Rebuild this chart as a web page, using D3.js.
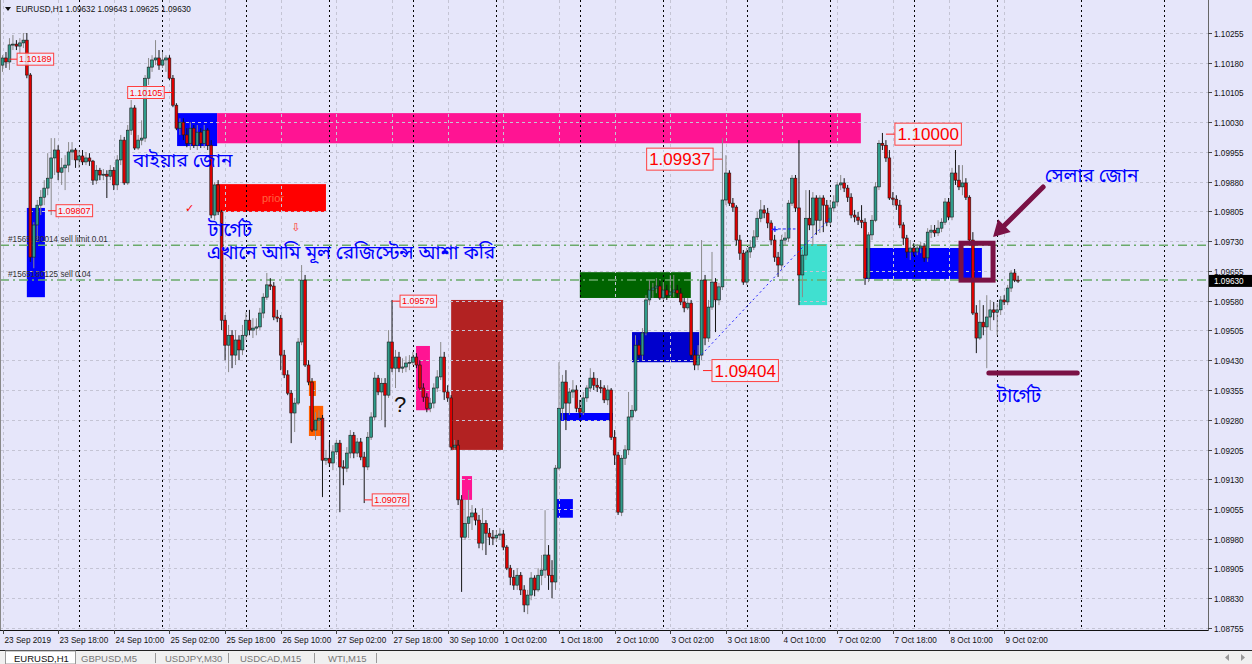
<!DOCTYPE html>
<html><head><meta charset="utf-8">
<script src="https://cdn.jsdelivr.net/npm/d3@7"></script>
<style>
html,body{margin:0;padding:0;background:#e6e6fa;overflow:hidden}
svg{display:block}
</style></head><body>
<svg id="chart" width="1252" height="664"></svg>
<script>
// ---------------- DATA ----------------
const symbol = "EURUSD,H1";
const headerQuote = ["1.09632", "1.09643", "1.09625", "1.09630"];
const currentPrice = 1.09630;

const opens = [
1.10174,1.10192,1.10182,1.10225,1.10227,1.10222,1.10230,1.10237,1.10149,1.09690,
1.09771,1.09821,1.09841,1.09864,1.09889,1.09940,1.09960,1.09904,1.09915,1.09922,
1.09955,1.09960,1.09935,1.09945,1.09930,1.09940,1.09932,1.09884,1.09909,1.09897,
1.09899,1.09894,1.09909,1.09872,1.09935,1.09985,1.09877,1.10010,1.10066,1.09965,
1.09985,1.09990,1.10141,1.10169,1.10187,1.10192,1.10174,1.10187,1.10192,1.10141,
1.10073,1.10015,1.10030,1.09998,1.09977,1.10015,1.09972,1.10005,1.09977,1.10010,
1.09972,1.09796,1.09872,1.09804,1.09531,1.09468,1.09493,1.09443,1.09481,1.09456,
1.09493,1.09531,1.09506,1.09511,1.09514,1.09549,1.09589,1.09620,1.09617,1.09539,
1.09536,1.09443,1.09393,1.09347,1.09297,1.09322,1.09476,1.09632,1.09418,1.09375,
1.09254,1.09279,1.09284,1.09178,1.09183,1.09171,1.09199,1.09221,1.09161,1.09158,
1.09196,1.09241,1.09196,1.09224,1.09186,1.09161,1.09236,1.09287,1.09385,1.09350,
1.09372,1.09342,1.09476,1.09410,1.09438,1.09410,1.09413,1.09423,1.09425,1.09438,
1.09418,1.09360,1.09337,1.09309,1.09322,1.09360,1.09388,1.09438,1.09350,1.09335,
1.09211,1.09216,1.09078,1.08984,1.09019,1.09035,1.09045,1.09027,1.08969,1.09019,
1.08994,1.08984,1.08982,1.08989,1.08992,1.08959,1.08906,1.08883,1.08863,1.08888,
1.08851,1.08813,1.08838,1.08881,1.08851,1.08888,1.08901,1.08939,1.08888,1.08871,
1.09158,1.09309,1.09375,1.09322,1.09350,1.09355,1.09309,1.09299,1.09335,1.09360,
1.09385,1.09367,1.09362,1.09360,1.09330,1.09355,1.09236,1.09191,1.09047,1.09183,
1.09204,1.09287,1.09304,1.09468,1.09443,1.09499,1.09582,1.09607,1.09612,1.09617,
1.09587,1.09607,1.09594,1.09602,1.09607,1.09599,1.09577,1.09562,1.09574,1.09443,
1.09418,1.09443,1.09632,1.09486,1.09564,1.09627,1.09582,1.09615,1.09834,1.09902,
1.09826,1.09816,1.09733,1.09700,1.09627,1.09703,1.09715,1.09741,1.09788,1.09809,
1.09801,1.09776,1.09733,1.09690,1.09670,1.09733,1.09738,1.09826,1.09889,1.09814,
1.09645,1.09695,1.09788,1.09771,1.09839,1.09783,1.09839,1.09821,1.09778,1.09814,
1.09829,1.09872,1.09877,1.09864,1.09841,1.09796,1.09791,1.09783,1.09778,1.09637,
1.09746,1.09783,1.09867,1.09977,1.09972,1.09940,1.09839,1.09836,1.09821,1.09771,
1.09738,1.09703,1.09713,1.09703,1.09713,1.09718,1.09688,1.09753,1.09758,1.09751,
1.09763,1.09778,1.09829,1.09791,1.09902,1.09884,1.09867,1.09877,1.09841,1.09733,
1.09549,1.09486,1.09526,1.09514,1.09539,1.09557,1.09551,1.09557,1.09582,1.09577,
1.09612,1.09650,1.09632];

const highs = [
1.10199,1.10207,1.10242,1.10250,1.10237,1.10242,1.10255,1.10255,1.10154,1.09778,
1.09834,1.09859,1.09884,1.09952,1.09990,1.09990,1.09972,1.09940,1.09947,1.09980,
1.09980,1.09965,1.09960,1.09960,1.09955,1.09952,1.09935,1.09922,1.09915,1.09912,
1.09909,1.09922,1.09917,1.09947,1.09998,1.09993,1.10023,1.10086,1.10073,1.09998,
1.10035,1.10149,1.10192,1.10199,1.10237,1.10212,1.10207,1.10199,1.10199,1.10149,
1.10078,1.10040,1.10040,1.10015,1.10030,1.10023,1.10023,1.10015,1.10023,1.10015,
1.09985,1.09879,1.09884,1.09809,1.09544,1.09519,1.09506,1.09506,1.09493,1.09519,
1.09551,1.09557,1.09536,1.09536,1.09562,1.09599,1.09650,1.09637,1.09627,1.09557,
1.09544,1.09456,1.09405,1.09355,1.09335,1.09486,1.09670,1.09645,1.09430,1.09385,
1.09299,1.09304,1.09292,1.09204,1.09224,1.09216,1.09229,1.09229,1.09178,1.09211,
1.09254,1.09249,1.09234,1.09234,1.09199,1.09249,1.09299,1.09400,1.09393,1.09385,
1.09385,1.09506,1.09582,1.09456,1.09451,1.09435,1.09440,1.09443,1.09451,1.09448,
1.09430,1.09372,1.09347,1.09335,1.09372,1.09405,1.09476,1.09451,1.09367,1.09342,
1.09229,1.09229,1.09090,1.09078,1.09103,1.09065,1.09057,1.09040,1.09057,1.09027,
1.09007,1.09002,1.09002,1.09007,1.09002,1.08964,1.08914,1.08901,1.08906,1.08896,
1.08863,1.08851,1.08896,1.08888,1.08906,1.08939,1.09052,1.08964,1.08926,1.09166,
1.09425,1.09393,1.09405,1.09360,1.09380,1.09367,1.09330,1.09350,1.09367,1.09410,
1.09400,1.09385,1.09380,1.09367,1.09367,1.09360,1.09254,1.09199,1.09191,1.09216,
1.09350,1.09317,1.09493,1.09481,1.09511,1.09594,1.09632,1.09625,1.09637,1.09632,
1.09627,1.09620,1.09645,1.09645,1.09620,1.09612,1.09587,1.09587,1.09582,1.09456,
1.09468,1.09733,1.09645,1.09582,1.09703,1.09637,1.09625,1.09990,1.09947,1.09909,
1.09839,1.09821,1.09746,1.09708,1.09713,1.09733,1.09758,1.09804,1.09834,1.09821,
1.09814,1.09783,1.09746,1.09703,1.09746,1.09753,1.09834,1.09897,1.09897,1.09985,
1.09708,1.09859,1.09859,1.09854,1.09846,1.09846,1.09846,1.09834,1.09834,1.09846,
1.09879,1.09897,1.09889,1.09872,1.09851,1.09809,1.09804,1.09821,1.09788,1.09753,
1.09796,1.09879,1.09985,1.10003,1.09985,1.09960,1.09854,1.09846,1.09834,1.09778,
1.09746,1.09733,1.09725,1.09723,1.09728,1.09725,1.09763,1.09771,1.09771,1.09783,
1.09788,1.09839,1.09839,1.09915,1.09960,1.09922,1.09922,1.09889,1.09846,1.09753,
1.09569,1.09582,1.09569,1.09594,1.09582,1.09577,1.09574,1.09592,1.09594,1.09620,
1.09657,1.09660,1.09643];

const lows = [
1.10157,1.10167,1.10162,1.10212,1.10212,1.10199,1.10217,1.10141,1.09678,1.09662,
1.09733,1.09796,1.09821,1.09846,1.09796,1.09897,1.09884,1.09872,1.09859,1.09904,
1.09935,1.09915,1.09915,1.09922,1.09922,1.09920,1.09872,1.09874,1.09884,1.09884,
1.09839,1.09884,1.09859,1.09859,1.09922,1.09872,1.09872,1.09998,1.09960,1.09960,
1.09972,1.09980,1.10124,1.10157,1.10174,1.10162,1.10167,1.10157,1.10136,1.10068,
1.10010,1.09998,1.09985,1.09967,1.09960,1.09965,1.09960,1.09965,1.09965,1.09960,
1.09788,1.09783,1.09796,1.09506,1.09430,1.09400,1.09410,1.09418,1.09430,1.09443,
1.09481,1.09493,1.09486,1.09493,1.09506,1.09536,1.09582,1.09607,1.09531,1.09526,
1.09405,1.09385,1.09342,1.09221,1.09249,1.09317,1.09468,1.09413,1.09367,1.09249,
1.09229,1.09254,1.09085,1.09166,1.09161,1.09153,1.09191,1.09047,1.09115,1.09148,
1.09183,1.09183,1.09186,1.09178,1.09070,1.09153,1.09229,1.09279,1.09342,1.09279,
1.09261,1.09335,1.09400,1.09360,1.09400,1.09398,1.09400,1.09405,1.09418,1.09410,
1.09355,1.09325,1.09299,1.09299,1.09309,1.09350,1.09380,1.09330,1.09325,1.09204,
1.09204,1.09065,1.08846,1.08977,1.08982,1.09002,1.09014,1.08956,1.08951,1.08939,
1.08964,1.08964,1.08972,1.08977,1.08951,1.08901,1.08863,1.08851,1.08851,1.08838,
1.08795,1.08790,1.08825,1.08835,1.08846,1.08863,1.08881,1.08851,1.08830,1.08851,
1.09153,1.09279,1.09254,1.09292,1.09335,1.09299,1.09284,1.09292,1.09325,1.09350,
1.09355,1.09350,1.09347,1.09322,1.09317,1.09229,1.09166,1.09040,1.09037,1.09166,
1.09191,1.09279,1.09299,1.09435,1.09430,1.09493,1.09569,1.09587,1.09599,1.09582,
1.09582,1.09582,1.09587,1.09589,1.09587,1.09569,1.09551,1.09557,1.09435,1.09405,
1.09405,1.09430,1.09468,1.09476,1.09557,1.09501,1.09569,1.09607,1.09821,1.09819,
1.09804,1.09720,1.09683,1.09620,1.09620,1.09688,1.09708,1.09733,1.09778,1.09788,
1.09763,1.09720,1.09678,1.09640,1.09657,1.09720,1.09728,1.09819,1.09804,1.09569,
1.09589,1.09683,1.09758,1.09720,1.09746,1.09751,1.09753,1.09768,1.09771,1.09804,
1.09819,1.09859,1.09854,1.09829,1.09788,1.09778,1.09771,1.09763,1.09620,1.09627,
1.09733,1.09778,1.09859,1.09960,1.09930,1.09834,1.09821,1.09809,1.09763,1.09720,
1.09688,1.09683,1.09693,1.09695,1.09700,1.09678,1.09678,1.09738,1.09741,1.09743,
1.09753,1.09771,1.09783,1.09783,1.09872,1.09859,1.09846,1.09834,1.09725,1.09544,
1.09448,1.09481,1.09493,1.09410,1.09506,1.09531,1.09493,1.09544,1.09569,1.09569,
1.09602,1.09627,1.09625];

const closes = [
1.10192,1.10182,1.10225,1.10227,1.10222,1.10230,1.10237,1.10149,1.09690,1.09771,
1.09821,1.09841,1.09864,1.09889,1.09940,1.09960,1.09904,1.09915,1.09922,1.09955,
1.09960,1.09935,1.09945,1.09930,1.09940,1.09932,1.09884,1.09909,1.09897,1.09899,
1.09894,1.09909,1.09872,1.09935,1.09985,1.09877,1.10010,1.10066,1.09965,1.09985,
1.09990,1.10141,1.10169,1.10187,1.10192,1.10174,1.10187,1.10192,1.10141,1.10073,
1.10015,1.10030,1.09998,1.09977,1.10015,1.09972,1.10005,1.09977,1.10010,1.09972,
1.09796,1.09872,1.09804,1.09531,1.09468,1.09493,1.09443,1.09481,1.09456,1.09493,
1.09531,1.09506,1.09511,1.09514,1.09549,1.09589,1.09620,1.09617,1.09539,1.09536,
1.09443,1.09393,1.09347,1.09297,1.09322,1.09476,1.09632,1.09418,1.09375,1.09254,
1.09279,1.09284,1.09178,1.09183,1.09171,1.09199,1.09221,1.09161,1.09158,1.09196,
1.09241,1.09196,1.09224,1.09186,1.09161,1.09236,1.09287,1.09385,1.09350,1.09372,
1.09342,1.09476,1.09410,1.09438,1.09410,1.09413,1.09423,1.09425,1.09438,1.09418,
1.09360,1.09337,1.09309,1.09322,1.09360,1.09388,1.09438,1.09350,1.09335,1.09211,
1.09216,1.09078,1.08984,1.09019,1.09035,1.09045,1.09027,1.08969,1.09019,1.08994,
1.08984,1.08982,1.08989,1.08992,1.08959,1.08906,1.08883,1.08863,1.08888,1.08851,
1.08813,1.08838,1.08881,1.08851,1.08888,1.08901,1.08939,1.08888,1.08871,1.09158,
1.09309,1.09375,1.09322,1.09350,1.09355,1.09309,1.09299,1.09335,1.09360,1.09385,
1.09367,1.09362,1.09360,1.09330,1.09355,1.09236,1.09191,1.09047,1.09183,1.09204,
1.09287,1.09304,1.09468,1.09443,1.09499,1.09582,1.09607,1.09612,1.09617,1.09587,
1.09607,1.09594,1.09602,1.09607,1.09599,1.09577,1.09562,1.09574,1.09443,1.09418,
1.09443,1.09632,1.09486,1.09564,1.09627,1.09582,1.09615,1.09834,1.09902,1.09826,
1.09816,1.09733,1.09700,1.09627,1.09703,1.09715,1.09741,1.09788,1.09809,1.09801,
1.09776,1.09733,1.09690,1.09670,1.09733,1.09738,1.09826,1.09889,1.09814,1.09645,
1.09695,1.09788,1.09771,1.09839,1.09783,1.09839,1.09821,1.09778,1.09814,1.09829,
1.09872,1.09877,1.09864,1.09841,1.09796,1.09791,1.09783,1.09778,1.09637,1.09746,
1.09783,1.09867,1.09977,1.09972,1.09940,1.09839,1.09836,1.09821,1.09771,1.09738,
1.09703,1.09713,1.09703,1.09713,1.09718,1.09688,1.09753,1.09758,1.09751,1.09763,
1.09778,1.09829,1.09791,1.09902,1.09884,1.09867,1.09877,1.09841,1.09733,1.09549,
1.09486,1.09526,1.09514,1.09539,1.09557,1.09551,1.09557,1.09582,1.09577,1.09612,
1.09650,1.09632,1.09630];

// time axis (bar index of each label)
const timeTickIndex = [0,16,32,48,64,80,96,112,128,144,160,176,192,208,224,240,256,272,288];
const timeTickLabels = ["23 Sep 2019","23 Sep 18:00","24 Sep 10:00","25 Sep 02:00","25 Sep 18:00",
  "26 Sep 10:00","27 Sep 02:00","27 Sep 18:00","30 Sep 10:00","1 Oct 02:00","1 Oct 18:00",
  "2 Oct 10:00","3 Oct 02:00","3 Oct 18:00","4 Oct 10:00","7 Oct 02:00","7 Oct 18:00",
  "8 Oct 10:00","9 Oct 02:00"];
const daySeparatorIndex = [22,46,70,94,118,142,166,190,214,238,262,286,310,334];
const priceTicks = [1.10255,1.10180,1.10105,1.10030,1.09955,1.09880,1.09805,1.09730,1.09655,
  1.09580,1.09505,1.09430,1.09355,1.09280,1.09205,1.09130,1.09055,1.08980,1.08905,1.08830,1.08755];

// rectangles drawn on the chart: bar index from/to, price top/bottom
const zoneFrom   = [50.2, 61.7, 7.0, 61.4, 129.0, 118.9, 132.1, 88.1, 88.1, 166.0, 181.0, 160.3, 159.1, 229.0, 248.0];
const zoneTo     = [61.7, 246.8, 12.2, 93.0, 143.9, 122.9, 135.0, 90.1, 92.2, 197.9, 200.3, 175.5, 164.0, 237.1, 281.6];
const zoneTop    = [1.10053,1.10053,1.09814,1.09874,1.09582,1.09466,1.09138,1.09378,1.09315,1.09652,1.09501,1.09297,1.09080,1.09723,1.09713];
const zoneBottom = [1.09970,1.09977,1.09589,1.09804,1.09204,1.09304,1.09078,1.09340,1.09239,1.09587,1.09425,1.09277,1.09033,1.09569,1.09635];
const zoneKind   = ["blue","pink","blue","red","brown","pink","pink","orange","orange","green","navy","blue","blue","turq","blue"];

// order lines
const orderPrices = [1.09720, 1.09632];
const orderLabels = ["#1565180014 sell limit 0.01", "#1565180125 sell 0.04"];

// price labels (text, bar index anchor, price, large?, side)
const plText  = ["1.10189","1.10105","1.09807","1.09579","1.09078","1.09937","1.10000","1.09404"];
const plIndex = [1.9, 48.8, 13.1, 112.0, 104.0, 206.9, 254.0, 201.4];
const plPrice = [1.10189,1.10105,1.09807,1.09579,1.09078,1.09937,1.10000,1.09404];
const plLarge = [false,false,false,false,false,true,true,true];
const plLeft  = [false,true,false,false,false,true,false,false];

// Bengali annotations (text, bar index, price at baseline)
const noteText  = ["বাইয়ার জোন","টার্গেট","এখানে আমি মূল রেজিস্টেন্স আশা করি","সেলার জোন","টার্গেট"];
const noteIndex = [37.5, 59.1, 58.8, 299.7, 285.9];
const notePrice = [1.09917, 1.09743, 1.09685, 1.09879, 1.09325];

const tabs = ["EURUSD,H1","GBPUSD,M5","USDJPY,M30","USDCAD,M15","WTI,M15"];

// ---------------- DRAW ----------------
const W = 1252, H = 664, plotR = 1208, plotB = 630;
const svg = d3.select("#chart");
const xs = d3.scaleLinear().domain([0, 300]).range([2.5, 2.5 + 300 * 3.478]);
const ys = d3.scaleLinear().domain([1.08755, 1.10255]).range([628, 33]);
const FONT = "'Liberation Sans', Arial, sans-serif";
const BN = "'Noto Sans Bengali','Lohit Bengali','Noto Sans',sans-serif";

svg.append("rect").attr("width", W).attr("height", H).attr("fill", "#e6e6fa");
const defs = svg.append("defs");
defs.append("clipPath").attr("id", "plot").append("rect").attr("x", 0).attr("y", 0).attr("width", plotR).attr("height", plotB);
const g = svg.append("g").attr("clip-path", "url(#plot)");

const zoneFill = {blue:"#0000ff", pink:"#ff1493", red:"#ff0000", brown:"#b22222", orange:"#ff6000",
  green:"#006400", navy:"#0000cd", turq:"#40e0d0"};
const zones = zoneFrom.map((f, k) => ({f, t: zoneTo[k], top: zoneTop[k], bot: zoneBottom[k], kind: zoneKind[k]}));
g.selectAll("rect.zone").data(zones).join("rect").attr("class", "zone")
  .attr("x", d => xs(d.f)).attr("width", d => xs(d.t) - xs(d.f))
  .attr("y", d => ys(d.top)).attr("height", d => ys(d.bot) - ys(d.top))
  .attr("fill", d => zoneFill[d.kind]);

// text in red zone
g.append("text").attr("x", xs(74.6)).attr("y", ys(1.09829)).text("prior")
  .attr("font-family", FONT).attr("font-size", 11).attr("fill", "#ff7a50").attr("opacity", 0.8);

// grid (on top of zones)
g.selectAll("line.hg").data(priceTicks).join("line").attr("class", "hg")
  .attr("x1", 0).attr("x2", plotR).attr("y1", d => Math.round(ys(d)) + 0.5).attr("y2", d => Math.round(ys(d)) + 0.5)
  .attr("stroke", "#c4c4d4").attr("stroke-dasharray", "3,3");
g.selectAll("line.vg").data(timeTickIndex).join("line").attr("class", "vg")
  .attr("x1", d => Math.round(xs(d)) + 0.5).attr("x2", d => Math.round(xs(d)) + 0.5).attr("y1", 0).attr("y2", plotB)
  .attr("stroke", "#c4c4d4").attr("stroke-dasharray", "3,3");
g.selectAll("line.sep").data(daySeparatorIndex).join("line").attr("class", "sep")
  .attr("x1", d => Math.round(xs(d)) + 0.5).attr("x2", d => Math.round(xs(d)) + 0.5).attr("y1", 0).attr("y2", plotB)
  .attr("stroke", "#000").attr("stroke-dasharray", "2,3");

// order lines
orderPrices.forEach((p, k) => {
  g.append("line").attr("x1", 0).attr("x2", plotR).attr("y1", ys(p)).attr("y2", ys(p))
    .attr("stroke", "#6aaa6a").attr("stroke-width", 1.5).attr("stroke-dasharray", "9,4,2,4");
  g.append("text").attr("x", xs(1.6)).attr("y", ys(p) - 3).text(orderLabels[k])
    .attr("font-family", FONT).attr("font-size", 8.2).attr("fill", "#333");
});

// candles
const bars = closes.map((c, i) => ({i, o: opens[i], h: highs[i], l: lows[i], c}));
const cg = g.append("g");
cg.selectAll("line.wick").data(bars).join("line").attr("class", "wick")
  .attr("x1", d => xs(d.i)).attr("x2", d => xs(d.i)).attr("y1", d => ys(d.h)).attr("y2", d => ys(d.l))
  .attr("stroke", d => d.c >= d.o ? "#8a8a8a" : "#151515").attr("stroke-width", 1);
cg.selectAll("rect.body").data(bars).join("rect").attr("class", "body")
  .attr("x", d => xs(d.i) - 1.4).attr("width", 2.8)
  .attr("y", d => ys(Math.max(d.o, d.c)))
  .attr("height", d => Math.max(1, ys(Math.min(d.o, d.c)) - ys(Math.max(d.o, d.c))))
  .attr("fill", d => d.c >= d.o ? "#2e9c8a" : "#e00000")
  .attr("stroke", "#1a1a1a").attr("stroke-width", 0.6);

// blue dotted trend line
g.append("line").attr("x1", xs(200.0)).attr("y1", ys(1.09435)).attr("x2", xs(237.9)).attr("y2", ys(1.09788))
  .attr("stroke", "#2020ff").attr("stroke-width", 1).attr("stroke-dasharray", "2,3");
g.append("line").attr("x1", xs(221.5)).attr("y1", ys(1.09761)).attr("x2", xs(228.0)).attr("y2", ys(1.09761))
  .attr("stroke", "#2020ff").attr("stroke-width", 1).attr("stroke-dasharray", "3,2");
g.append("text").attr("x", xs(222)).attr("y", ys(1.09761) + 4).attr("text-anchor", "middle").text("+")
  .attr("font-family", FONT).attr("font-size", 11).attr("font-weight", "bold").attr("fill", "#2020ff");

// price labels
plText.forEach((t, k) => {
  const big = plLarge[k], fs = big ? 17 : 9, bh = big ? 22 : 12, gap = big ? 9 : 8;
  const ax = xs(plIndex[k]), ay = ys(plPrice[k]);
  const tmp = g.append("text").text(t).attr("font-family", FONT).attr("font-size", fs);
  const tw = tmp.node().getComputedTextLength(); tmp.remove();
  const bw = tw + (big ? 5 : 4);
  const bx = plLeft[k] ? ax - gap - bw : ax + gap;
  g.append("line").attr("x1", ax).attr("x2", plLeft[k] ? bx + bw : bx).attr("y1", ay).attr("y2", ay)
    .attr("stroke", "#ff2020").attr("stroke-width", 1);
  g.append("rect").attr("x", bx).attr("y", ay - bh / 2).attr("width", bw).attr("height", bh)
    .attr("fill", "#eeeefc").attr("fill-opacity", 0.85).attr("stroke", "#ff4040").attr("stroke-width", 1);
  g.append("text").attr("x", bx + bw / 2).attr("y", ay + fs * 0.36).attr("text-anchor", "middle").text(t)
    .attr("font-family", FONT).attr("font-size", fs).attr("fill", "#ff0000");
});

// small markers
g.append("text").attr("x", xs(52.5)).attr("y", ys(1.09804)).text("✓")
  .attr("font-family", "DejaVu Sans").attr("font-size", 11).attr("fill", "#ff0000");
g.append("text").attr("x", xs(83)).attr("y", ys(1.09756)).text("⇩")
  .attr("font-family", "DejaVu Sans").attr("font-size", 11).attr("fill", "#ff3030");
g.append("text").attr("x", xs(112.6)).attr("y", ys(1.09300)).text("?")
  .attr("font-family", FONT).attr("font-size", 22).attr("fill", "#111");

// maroon annotations
const maroon = "#7a1145";
g.append("rect").attr("x", xs(275.6)).attr("y", ys(1.09725)).attr("width", xs(284.8) - xs(275.6))
  .attr("height", ys(1.09632) - ys(1.09725)).attr("fill", "none").attr("stroke", maroon).attr("stroke-width", 5);
g.append("line").attr("x1", xs(283.6)).attr("x2", xs(309.0)).attr("y1", ys(1.09398)).attr("y2", ys(1.09398))
  .attr("stroke", maroon).attr("stroke-width", 5).attr("stroke-linecap", "round");
{
  const x1 = xs(299.2), y1 = ys(1.09867), x2 = xs(284.8), y2 = ys(1.09741);
  const ang = Math.atan2(y2 - y1, x2 - x1), L = 16, Wd = 9;
  const bx = x2 - L * Math.cos(ang), by = y2 - L * Math.sin(ang);
  g.append("line").attr("x1", x1).attr("y1", y1).attr("x2", bx).attr("y2", by)
    .attr("stroke", maroon).attr("stroke-width", 5).attr("stroke-linecap", "round");
  const px = -Math.sin(ang), py = Math.cos(ang);
  g.append("path").attr("d", `M${x2},${y2}L${bx + px * Wd},${by + py * Wd}L${bx - px * Wd},${by - py * Wd}Z`)
    .attr("fill", maroon);
}

// Bengali notes
noteText.forEach((t, k) => {
  g.append("text").attr("x", xs(noteIndex[k])).attr("y", ys(notePrice[k])).text(t)
    .attr("font-family", BN).attr("font-size", 19).attr("fill", "#0000ff");
});

// header
svg.append("path").attr("d", "M5,7L11,7L8,11Z").attr("fill", "#111");
svg.append("text").attr("x", 16).attr("y", 12).text(symbol + "  " + headerQuote.join(" "))
  .attr("font-family", FONT).attr("font-size", 8.2).attr("fill", "#111");

// axes
svg.append("line").attr("x1", plotR + 0.5).attr("x2", plotR + 0.5).attr("y1", 0).attr("y2", plotB + 0.5)
  .attr("stroke", "#666");
svg.append("line").attr("x1", 0).attr("x2", plotR + 0.5).attr("y1", plotB + 0.5).attr("y2", plotB + 0.5)
  .attr("stroke", "#111");
svg.append("line").attr("x1", 0.5).attr("x2", 0.5).attr("y1", 0).attr("y2", plotB).attr("stroke", "#888");
const ya = svg.append("g");
priceTicks.forEach(p => {
  const y = Math.round(ys(p)) + 0.5;
  ya.append("line").attr("x1", plotR).attr("x2", plotR + 4).attr("y1", y).attr("y2", y).attr("stroke", "#444");
  ya.append("text").attr("x", plotR + 6).attr("y", y + 3).text(p.toFixed(5))
    .attr("font-family", FONT).attr("font-size", 8.2).attr("fill", "#111");
});
// current price box
{
  const y = ys(currentPrice);
  ya.append("rect").attr("x", plotR + 1).attr("y", y - 6).attr("width", 43).attr("height", 12).attr("fill", "#000");
  ya.append("text").attr("x", plotR + 6).attr("y", y + 3).text(currentPrice.toFixed(5))
    .attr("font-family", FONT).attr("font-size", 8.2).attr("fill", "#fff");
}
const xa = svg.append("g");
timeTickIndex.forEach((idx, k) => {
  const x = Math.round(xs(idx)) + 0.5;
  xa.append("line").attr("x1", x).attr("x2", x).attr("y1", plotB).attr("y2", plotB + 4).attr("stroke", "#444");
  xa.append("text").attr("x", x + 1).attr("y", plotB + 13).text(timeTickLabels[k])
    .attr("font-family", FONT).attr("font-size", 8.2).attr("fill", "#111");
});

// tab bar
svg.append("rect").attr("x", 0).attr("y", 650).attr("width", W).attr("height", 14).attr("fill", "#f0f0f0");
svg.append("line").attr("x1", 0).attr("x2", W).attr("y1", 650.5).attr("y2", 650.5).attr("stroke", "#222");
svg.append("rect").attr("x", 5.5).attr("y", 651).attr("width", 70).attr("height", 13).attr("fill", "#fff")
  .attr("stroke", "#999");
const tabX = [14, 81, 165, 240, 328];
const sepX = [155, 228, 314, 376];
tabs.forEach((t, k) => {
  svg.append("text").attr("x", tabX[k]).attr("y", 662).text(t).attr("font-family", FONT).attr("font-size", 9.5)
    .attr("fill", k === 0 ? "#111" : "#777");
});
sepX.forEach(x => svg.append("line").attr("x1", x + 0.5).attr("x2", x + 0.5).attr("y1", 653).attr("y2", 663).attr("stroke", "#999"));
svg.append("path").attr("d", "M1229,654L1225,657.5L1229,661Z").attr("fill", "#999");
svg.append("path").attr("d", "M1241,654L1245,657.5L1241,661Z").attr("fill", "#999");
</script>
</body></html>
